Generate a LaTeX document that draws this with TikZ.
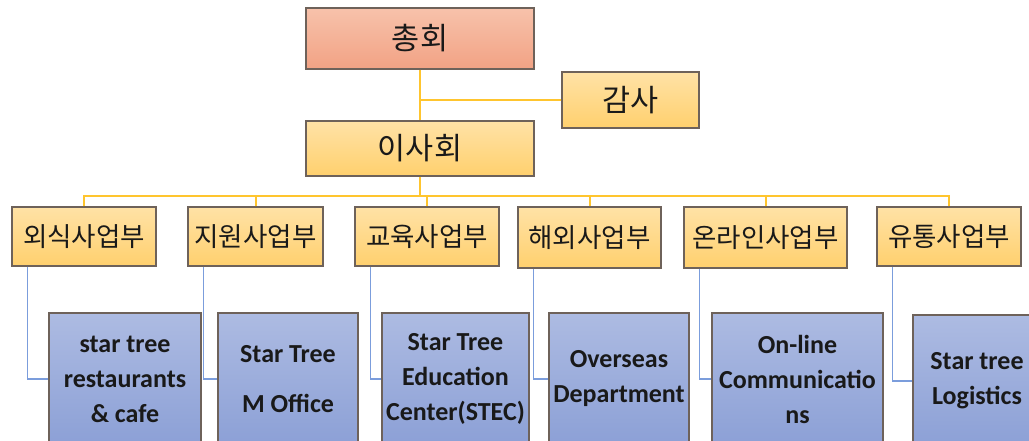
\documentclass[tikz,border=0pt]{standalone}
\usepackage{xcolor}
\usepackage{fontspec}
\usepackage{tikz}

\newfontfamily\krfont{Noto Sans CJK KR}
\newfontfamily\enfont{Carlito}

\definecolor{salmontop}{HTML}{F7C2AB}
\definecolor{salmonbot}{HTML}{F2A284}
\definecolor{goldtop}{HTML}{FFE2A6}
\definecolor{goldbot}{HTML}{FFD06E}
\definecolor{bluetop}{HTML}{ADBBE2}
\definecolor{bluebot}{HTML}{8CA0D6}
\definecolor{edgegray}{HTML}{6E625A}
\definecolor{busyellow}{HTML}{FFC52E}
\definecolor{linkblue}{HTML}{7B9DDC}

\tikzset{
	box/.style={draw=edgegray, line width=1.2pt, inner sep=0pt, text=black!90},
	topbox/.style={box, top color=salmontop, bottom color=salmonbot, font=\krfont\fontsize{30.5}{31}\selectfont},
	mgmtbox/.style={box, top color=goldtop, bottom color=goldbot, font=\krfont\fontsize{30.5}{31}\selectfont},
	deptbox/.style={box, top color=goldtop, bottom color=goldbot, minimum height=59pt, font=\krfont\fontsize{26.5}{27}\selectfont},
	unitbox/.style={box, top color=bluetop, bottom color=bluebot, minimum height=132pt, align=center, font=\enfont\bfseries\fontsize{26}{35}\selectfont},
	bus/.style={draw=busyellow, line width=2pt},
	link/.style={draw=linkblue, line width=1.6pt},
}

\begin{document}
\begin{tikzpicture}[x=1pt,y=-1pt]
	\useasboundingbox (0,0) rectangle (1029,441);
	\clip (0,0) rectangle (1029,441);
	% top of the chart
	\path (420,38.5) node[topbox, minimum width=228pt, minimum height=61pt] (chonghoe) {총회};
	\path (630.5,100) node[mgmtbox, minimum width=137pt, minimum height=56pt] (gamsa) {감사};
	\path (420,148.5) node[mgmtbox, minimum width=228pt, minimum height=55pt] (isahoe) {이사회};
	% departments
	\path (84,236.5) node[deptbox, minimum width=144pt] (d1) {외식사업부};
	\path (255.5,236.5) node[deptbox, minimum width=135pt] (d2) {지원사업부};
	\path (427,236.5) node[deptbox, minimum width=144pt] (d3) {교육사업부};
	\path (589.5,237.5) node[deptbox, minimum width=143pt, minimum height=61pt] (d4) {해외사업부};
	\path (765.5,237.5) node[deptbox, minimum width=163pt, minimum height=61pt] (d5) {온라인사업부};
	\path (949,236.5) node[deptbox, minimum width=144pt] (d6) {유통사업부};
	% units under each department
	\path (125,379) node[unitbox, minimum width=152pt] (u1) {star tree\\restaurants\\\& cafe};
	\path (288,379) node[unitbox, minimum width=140pt] (u2) {Star Tree\\[15pt]M Office};
	\path (455.5,379) node[unitbox, minimum width=147pt] (u3) {Star Tree\\Education\\Center(STEC)};
	\path (619,379) node[unitbox, minimum width=140pt] (u4) {Overseas\\Department};
	\path (797.5,379) node[unitbox, minimum width=171pt] (u5) {On-line\\Communicatio\\ns};
	\path (977,381) node[unitbox, minimum width=128pt] (u6) {Star tree\\Logistics};
	% connectors
	\draw[bus] (chonghoe.south) -- (isahoe.north);
	\draw[bus] (gamsa.west) -- (gamsa.west -| chonghoe.south);
	\draw[bus] (isahoe.south) -- ++(0,19) coordinate (hub);
	\foreach \d in {d1,d2,d3,d4,d5,d6}
		\draw[bus] (\d.north) |- (hub);
	\foreach \d/\u in {d1/u1,d2/u2,d3/u3,d4/u4,d5/u5,d6/u6}
		\draw[link] ([xshift=16pt]\d.south west) |- (\u.west);
\end{tikzpicture}
\end{document}
